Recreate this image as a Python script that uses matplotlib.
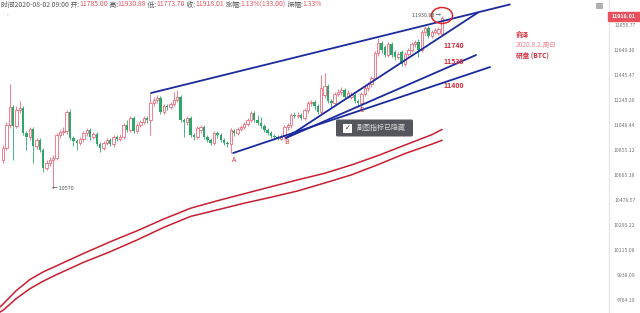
import numpy as np
import matplotlib
matplotlib.use("Agg")
import matplotlib.pyplot as plt
from matplotlib.patches import Rectangle, Ellipse, FancyBboxPatch
from matplotlib.ticker import NullLocator, NullFormatter
from matplotlib.transforms import Affine2D

plt.rcParams['font.family'] = ['Noto Sans CJK SC', 'DejaVu Sans']

# BTC 1h candles
opens = [10779, 10871, 11049, 11190, 11041, 11166, 11182, 10986, 10955, 11017,
         10886, 10932, 10855, 10718, 10756, 10779, 10794, 10971, 10994, 11002,
         11150, 10948, 10924, 10909, 10940, 10986, 11010, 10955, 10979, 10901,
         10871, 10909, 10932, 10901, 10955, 10940, 10955, 11049, 11010, 11103,
         11002, 11049, 11072, 11103, 11088, 11222, 11245, 11261, 11150, 11198,
         11190, 11214, 11245, 11269, 11088, 11072, 11103, 10971, 10955, 11010,
         11033, 10955, 10932, 10909, 10986, 10971, 10932, 10909, 10901, 11002,
         10986, 11017, 11033, 11056, 11088, 11143, 11088, 11064, 11041, 11010,
         10986, 10963, 10955, 10940, 10963, 11033, 11049, 11127, 11119, 11127,
         11103, 11166, 11222, 11229, 11198, 11150, 11285, 11357, 11237, 11222,
         11293, 11309, 11325, 11269, 11269, 11285, 11237, 11222, 11293, 11341,
         11373, 11421, 11625, 11707, 11674, 11608, 11699, 11633, 11592, 11633,
         11535, 11617, 11649, 11699, 11715, 11649, 11798, 11832, 11765, 11798,
         11790, 11785.00]
closes = [10871, 11049, 11190, 11041, 11166, 11182, 10986, 10955, 11017, 10886,
          10932, 10855, 10718, 10756, 10779, 10794, 10971, 10994, 11002, 11150,
          10948, 10924, 10909, 10940, 10986, 11010, 10955, 10979, 10901, 10871,
          10909, 10932, 10901, 10955, 10940, 10955, 11049, 11010, 11103, 11002,
          11049, 11072, 11103, 11088, 11222, 11245, 11261, 11150, 11198, 11190,
          11214, 11245, 11269, 11088, 11072, 11103, 10971, 10955, 11025, 11033,
          10955, 10932, 10909, 10986, 10971, 10932, 10909, 10901, 11010, 10986,
          11017, 11033, 11056, 11088, 11143, 11088, 11064, 11041, 11010, 10986,
          10963, 10955, 10940, 10963, 11033, 11049, 11127, 11119, 11127, 11103,
          11166, 11222, 11229, 11198, 11150, 11341, 11357, 11237, 11222, 11293,
          11309, 11325, 11269, 11301, 11285, 11237, 11222, 11293, 11341, 11373,
          11421, 11625, 11707, 11649, 11608, 11699, 11608, 11592, 11617, 11535,
          11617, 11649, 11699, 11715, 11649, 11798, 11832, 11765, 11798, 11815,
          11823, 11918.01]
highs = [10894, 11072, 11373, 11206, 11198, 11237, 11198, 11002, 11033, 11033,
         10948, 10948, 10871, 10779, 10802, 10817, 10986, 11010, 11033, 11166,
         11174, 10963, 10940, 10955, 11002, 11025, 11025, 10994, 10994, 10917,
         10924, 10948, 10948, 10971, 10971, 10979, 11064, 11088, 11119, 11119,
         11064, 11088, 11119, 11119, 11301, 11269, 11285, 11277, 11214, 11214,
         11229, 11309, 11325, 11285, 11103, 11119, 11119, 10986, 11041, 11049,
         11049, 10971, 10948, 11002, 11002, 10986, 10948, 10924, 11025, 11017,
         11033, 11049, 11072, 11103, 11158, 11158, 11127, 11111, 11056, 11025,
         11002, 10979, 10971, 10979, 11049, 11064, 11143, 11150, 11150, 11143,
         11182, 11237, 11245, 11245, 11214, 11446, 11462, 11373, 11253, 11309,
         11333, 11349, 11341, 11325, 11309, 11301, 11253, 11309, 11357, 11389,
         11438, 11641, 11748, 11723, 11691, 11715, 11715, 11649, 11633, 11649,
         11633, 11666, 11715, 11732, 11740, 11815, 11848, 11848, 11815, 11832,
         11840, 11930.88]
lows = [10756, 10855, 11025, 10779, 11025, 11143, 10971, 10855, 10932, 10756,
        10863, 10840, 10688, 10703, 10733, 10570, 10779, 10948, 10971, 10979,
        10932, 10886, 10855, 10894, 10917, 10963, 10932, 10940, 10886, 10840,
        10855, 10894, 10886, 10878, 10924, 10924, 10940, 10994, 10994, 10986,
        10986, 11033, 11056, 11064, 10971, 11198, 11222, 11135, 11135, 11166,
        11174, 11198, 11229, 11072, 10955, 11049, 10955, 10932, 10940, 10986,
        10940, 10917, 10894, 10894, 10948, 10917, 10894, 10878, 10832, 10963,
        10971, 11002, 11017, 11041, 11072, 11072, 11049, 11025, 10994, 10971,
        10948, 10940, 10932, 10932, 10940, 11010, 11025, 11103, 11103, 11088,
        11088, 11143, 11198, 11166, 11135, 11135, 11261, 11222, 11182, 11206,
        11277, 11285, 11253, 11261, 11253, 11222, 11206, 11174, 11277, 11317,
        11349, 11405, 11600, 11625, 11592, 11592, 11592, 11567, 11576, 11519,
        11519, 11600, 11633, 11674, 11592, 11633, 11773, 11748, 11748, 11782,
        11773, 11773.70]

# two long moving averages
ma_idx = [-1, 0, 4, 8, 12, 16, 24, 32, 40, 48, 56, 64, 72, 80, 88, 96, 104, 112, 120, 128, 131]
ma_upper = [9714, 9736, 9830, 9906, 9960, 10003, 10090, 10174, 10253, 10339, 10418, 10473,
            10525, 10577, 10629, 10678, 10741, 10813, 10893, 10973, 11013]
ma_lower = [9680, 9693, 9775, 9842, 9895, 9941, 10027, 10103, 10187, 10278, 10358, 10406,
            10455, 10499, 10546, 10605, 10666, 10744, 10828, 10900, 10929]

# hand drawn trend lines: (start idx, end idx), (start price, end price)
trend_idx = [(44.2, 151.3), (84.5, 141.8), (84.5, 141.2), (68.7, 145.4)]
trend_px = [(11301, 12030), (10948, 11962), (10948, 11608), (10832, 11510)]

price_ticks = [11856.77, 11649.30, 11445.47, 11245.20, 11048.44, 10855.12,
               10665.18, 10478.57, 10295.22, 10115.08, 9938.09, 9764.19]

header = [('时间2020-08-02 09:00', 'g'), (' 开:', 'g'), ('11785.00', 'r'),
          (' 高:', 'g'), ('11930.88', 'r'), (' 低:', 'g'), ('11773.70', 'r'),
          (' 收:', 'g'), ('11918.01', 'r'), (' 涨幅:', 'g'), ('1.13%(133.00)', 'r'),
          (' 振幅:', 'g'), ('1.33%', 'r')]
levels = ['11740', '11530', '11400']

W, H = 640, 313
fig = plt.figure(figsize=(W / 100, H / 100), dpi=100)
ax = fig.add_axes([0, 0, 609 / W, 1])
pix = Affine2D().scale(1 / W, -1 / H).translate(0, 1) + fig.transFigure

up_col = '#ec6b7c'
dn_col = '#2ea86a'
o = np.array(opens, float)
c = np.array(closes, float)
hi = np.array(highs, float)
lo = np.array(lows, float)
idx = np.arange(len(c))
up = c >= o

ax.vlines(idx[up], lo[up], hi[up], color=up_col, lw=0.6, zorder=2)
ax.vlines(idx[~up], lo[~up], hi[~up], color=dn_col, lw=0.6, zorder=2)
bottom = np.minimum(o, c)
height = np.maximum(np.abs(c - o), 0.5)
ax.bar(idx[up], height[up], bottom=bottom[up], width=0.72, facecolor='white',
       edgecolor=up_col, linewidth=0.6, zorder=3)
ax.bar(idx[~up], height[~up], bottom=bottom[~up], width=0.72, color=dn_col,
       linewidth=0, zorder=3)

ax.plot(ma_idx, ma_upper, color='#c81e30', lw=1.1, zorder=2)
ax.plot(ma_idx, ma_lower, color='#c81e30', lw=1.1, zorder=2)

for (x0, x1), (p0, p1) in zip(trend_idx, trend_px):
    ax.plot([x0, x1], [p0, p1], color='#1b2a9e', lw=1.3, zorder=4,
            solid_capstyle='round')

ax.set_yscale('log')
ax.set_xlim(-0.9, 180.9)
ax.set_ylim(9675, 12068)
ax.yaxis.tick_right()
ax.set_yticks(price_ticks)
ax.set_yticklabels([f'{v:.2f}' for v in price_ticks])
ax.yaxis.set_minor_locator(NullLocator())
ax.yaxis.set_minor_formatter(NullFormatter())
ax.tick_params(axis='y', length=0, pad=19, labelsize=3.7, labelcolor='#777777')
for lab in ax.get_yticklabels():
    lab.set_horizontalalignment('right')
ax.set_xticks([])
for s in ['top', 'left', 'bottom']:
    ax.spines[s].set_visible(False)
ax.spines['right'].set_color('#e6e6e6')
ax.spines['right'].set_linewidth(0.8)

# header line
red_txt = '#e8505e'
gray_txt = '#555555'
t = fig.text(1, 4.5, header[0][0], transform=pix, fontsize=4.9, color=gray_txt,
             va='center', ha='left')
for s, k in header[1:]:
    t = ax.annotate(s, xy=(1, 0), xycoords=t, va='bottom', ha='left', fontsize=4.9,
                    color=red_txt if k == 'r' else gray_txt, annotation_clip=False)
fig.text(7, 14.5, '›', transform=pix, fontsize=4, color='#999999', va='center')

# price tag on the axis
fig.patches.append(Rectangle((608, 12), 32, 8.5, transform=pix, color='#e8505e'))
fig.text(624, 16.2, f'{closes[-1]:.2f}', transform=pix, fontsize=3.9, color='white',
         ha='center', va='center', fontweight='bold')
fig.patches.append(Rectangle((596, 2.5), 6, 5, transform=pix, facecolor='#b0b0b0',
                             edgecolor='#909090', lw=0.4))

# high / low marks
fig.text(441, 15.5, f'{highs[-1]:.2f} →', transform=pix, fontsize=3.9,
         color=gray_txt, ha='right', va='center')
fig.patches.append(Ellipse((442, 15.5), 21, 16, transform=pix, fill=False,
                           edgecolor='#e02a2a', lw=1.1))
fig.text(52, 189, f'← {min(lows):.0f}', transform=pix, fontsize=3.9,
         color=gray_txt, ha='left', va='center')

# level labels and points
lv_col = '#d42a3a'
for s, y in zip(levels, [45, 62, 86]):
    fig.text(443, y, s, transform=pix, fontsize=5, color=lv_col,
             fontweight='bold', ha='left', va='center')
for s, x, y in [('A', 234, 160), ('B', 287, 142), ('C', 362, 110)]:
    fig.text(x, y, s, transform=pix, fontsize=5, color='#d9303a',
             ha='center', va='center')

# author note
fig.text(516, 34.5, '俞泽', transform=pix, fontsize=4.8, color=lv_col,
         fontweight='bold', va='center')
fig.text(516, 45, '2020.8.2.周日', transform=pix, fontsize=4.8, color='#f08590',
         va='center')
fig.text(516, 56, '研盘 (BTC)', transform=pix, fontsize=4.8, color=lv_col,
         fontweight='bold', va='center')

# hidden-indicator popup
fig.patches.append(FancyBboxPatch((336, 119.5), 77, 17, transform=pix,
                                  boxstyle='round,pad=0,rounding_size=1.5',
                                  facecolor='#4a4d52', edgecolor='none', alpha=0.95))
fig.patches.append(Rectangle((343, 123.5), 9, 9, transform=pix, facecolor='white',
                             edgecolor='none'))
fig.text(347.5, 128.2, '✓', transform=pix, fontsize=5, color='#333333',
         ha='center', va='center', family='DejaVu Sans')
fig.text(357, 128, '副图指标已隐藏', transform=pix, fontsize=5, color='#dddddd',
         ha='left', va='center')

fig.savefig('out.png', dpi=100)
